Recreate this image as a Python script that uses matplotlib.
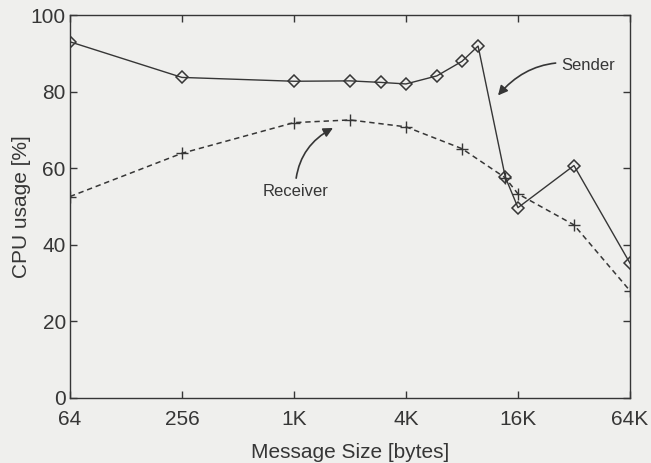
import matplotlib
matplotlib.use("Agg")
import matplotlib.pyplot as plt

# message sizes in bytes and CPU load in percent
sender_sizes = [64, 256, 1024, 2048, 3000, 4096, 6000, 8192, 10000, 14000, 16384, 32768, 65536]
sender_cpu = [93.0, 83.7, 82.7, 82.8, 82.4, 82.0, 84.1, 87.9, 91.9, 57.7, 49.7, 60.7, 35.2]

receiver_sizes = [64, 256, 1024, 2048, 4096, 8192, 14000, 16384, 32768, 65536]
receiver_cpu = [52.6, 63.9, 71.9, 72.6, 70.8, 65.1, 57.5, 53.3, 45.2, 28.0]

xticks = [64, 256, 1024, 4096, 16384, 65536]
xtick_labels = ["64", "256", "1K", "4K", "16K", "64K"]
yticks = [0, 20, 40, 60, 80, 100]

bg = "#efefed"
ink = "#363636"

plt.rcParams["font.family"] = ["Liberation Sans", "DejaVu Sans"]

fig = plt.figure(figsize=(6.51, 4.63), dpi=100, facecolor=bg)
ax = fig.add_axes([0.1075, 0.1404, 0.8602, 0.8272], facecolor=bg)

ax.plot(sender_sizes, sender_cpu, "-", color=ink, lw=1.0,
        marker="D", markersize=6.5, markerfacecolor="none",
        markeredgecolor=ink, markeredgewidth=1.1)
ax.plot(receiver_sizes, receiver_cpu, "--", color=ink, lw=1.1,
        dashes=(3.5, 2.5), marker="+", markersize=8.5, markeredgewidth=1.0)

ax.set_xscale("log", base=2)
ax.set_xlim(64, 65536)
ax.set_ylim(0, 100)
ax.set_xticks(xticks)
ax.set_xticklabels(xtick_labels)
ax.set_yticks(yticks)
ax.minorticks_off()

ax.tick_params(direction="in", length=5, width=1.0, color=ink, labelcolor=ink,
               labelsize=15, top=True, right=True)
ax.tick_params(axis="x", pad=9)
ax.tick_params(axis="y", pad=3)
for sp in ax.spines.values():
    sp.set_color(ink)
    sp.set_linewidth(1.0)

ax.set_xlabel("Message Size [bytes]", fontsize=15, color=ink, labelpad=10)
ax.set_ylabel("CPU usage [%]", fontsize=15, color=ink, labelpad=0)

arrow = dict(arrowstyle="-|>", color=ink, lw=1.2, mutation_scale=14,
             shrinkA=2, shrinkB=0)
ax.annotate("Sender", xy=(12800, 79.0), xytext=(39000, 86.9),
            fontsize=12, color=ink, ha="center", va="center",
            arrowprops=dict(arrow, connectionstyle="arc3,rad=0.3"))
ax.annotate("Receiver", xy=(1660, 70.5), xytext=(1040, 54.0),
            fontsize=12, color=ink, ha="center", va="center",
            arrowprops=dict(arrow, connectionstyle="arc3,rad=-0.3"))

fig.savefig("out.png", dpi=100, facecolor=bg)
